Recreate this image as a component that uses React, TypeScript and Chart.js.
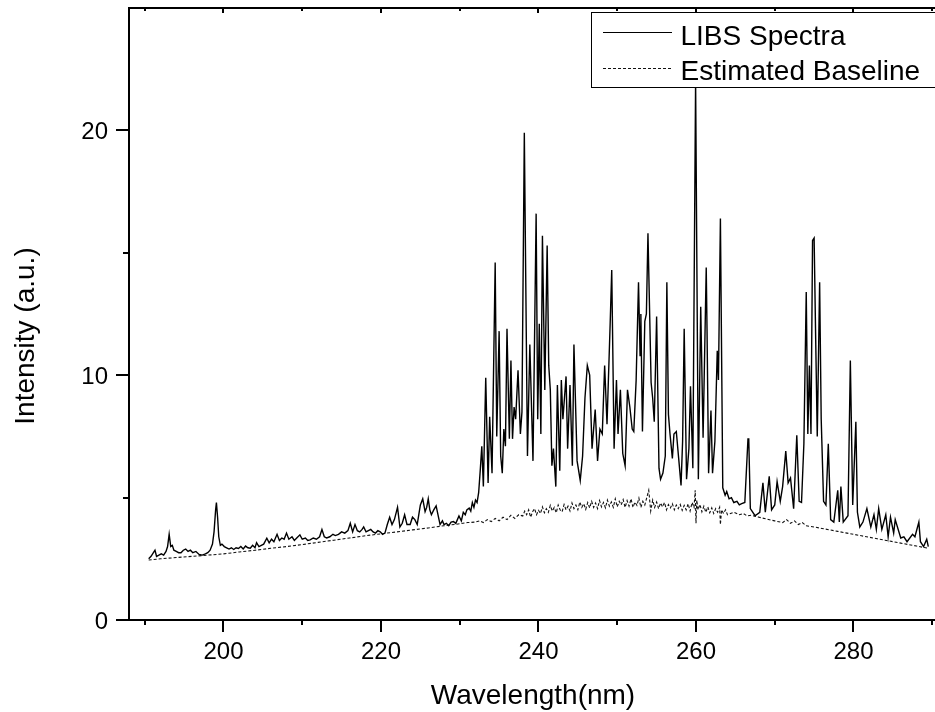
import React, { useEffect, useRef } from 'react';
import { Chart, registerables } from 'chart.js';

Chart.register(...registerables);

// ---- data ----
const spectrumWavelength = [
  190.5, 190.8, 191.1, 191.3, 191.5, 191.8, 192.1, 192.4, 192.7, 192.9, 193.1, 193.3, 193.5, 193.7, 194.0, 194.3,
  194.6, 194.9, 195.2, 195.5, 195.8, 196.1, 196.5, 196.9, 197.3, 197.7, 198.0, 198.3, 198.6, 198.8, 199.0, 199.1,
  199.25, 199.4, 199.6, 199.8, 200.1, 200.4, 200.7, 201.0, 201.3, 201.6, 201.9, 202.2, 202.5, 202.8, 203.1, 203.4,
  203.7, 204.0, 204.2, 204.5, 204.8, 205.1, 205.5, 205.8, 206.1, 206.4, 206.8, 207.1, 207.4, 207.7, 208.0, 208.3,
  208.7, 209.0, 209.3, 209.7, 210.0, 210.4, 210.7, 211.0, 211.4, 211.8, 212.2, 212.5, 212.8, 213.1, 213.5, 213.9,
  214.2, 214.6, 215.0, 215.4, 215.8, 216.1, 216.4, 216.7, 217.0, 217.3, 217.6, 217.8, 218.1, 218.4, 218.7, 219.0,
  219.3, 219.6, 219.9, 220.2, 220.5, 220.8, 221.1, 221.4, 221.7, 222.1, 222.4, 222.7, 223.0, 223.3, 223.7, 224.0,
  224.3, 224.6, 224.8, 225.0, 225.3, 225.6, 225.8, 226.0, 226.2, 226.4, 226.7, 227.0, 227.3, 227.5, 227.8, 228.0,
  228.3, 228.6, 228.9, 229.2, 229.5, 229.9, 230.2, 230.45, 230.7, 230.9, 231.2, 231.4, 231.6, 231.8, 232.0, 232.2,
  232.4, 232.6, 232.8, 233.0, 233.3, 233.6, 233.8, 234.1, 234.5, 234.7, 235.0, 235.2, 235.4, 235.6, 235.8, 236.0,
  236.3, 236.5, 236.7, 236.9, 237.1, 237.4, 237.7, 237.9, 238.2, 238.6, 238.9, 239.3, 239.7, 239.9, 240.1, 240.3,
  240.5, 240.8, 241.1, 241.3, 241.5, 241.7, 241.9, 242.2, 242.4, 242.7, 242.9, 243.1, 243.5, 243.7, 244.0, 244.3,
  244.5, 244.9, 245.3, 245.6, 245.9, 246.2, 246.5, 246.8, 247.2, 247.5, 247.8, 248.1, 248.4, 248.7, 249.1, 249.3,
  249.6, 249.9, 250.1, 250.4, 250.7, 251.0, 251.3, 251.6, 251.9, 252.1, 252.4, 252.7, 252.9, 253.0, 253.2, 253.5,
  253.7, 253.9, 254.3, 254.5, 254.7, 255.0, 255.3, 255.5, 255.8, 256.1, 256.3, 256.5, 256.7, 257.0, 257.2, 257.5,
  257.8, 258.1, 258.3, 258.5, 258.8, 259.1, 259.3, 259.6, 259.95, 260.3, 260.6, 260.9, 261.3, 261.4, 261.6, 261.9,
  262.1, 262.4, 262.7, 262.85, 263.1, 263.4, 263.7, 263.9, 264.2, 264.5, 264.8, 265.2, 265.5, 265.8, 266.2, 266.6,
  266.7, 266.9, 267.5, 268.1, 268.5, 268.8, 269.3, 269.6, 270.0, 270.3, 270.7, 271.0, 271.4, 271.7, 272.0, 272.4,
  272.8, 273.1, 273.4, 273.7, 274.0, 274.2, 274.4, 274.6, 274.8, 275.0, 275.2, 275.4, 275.7, 275.9, 276.2, 276.5,
  276.8, 277.1, 277.5, 278.0, 278.2, 278.4, 278.7, 279.3, 279.6, 279.9, 280.3, 280.5, 280.8, 281.2, 281.7, 282.2,
  282.6, 282.9, 283.2, 283.6, 284.1, 284.4, 284.7, 285.1, 285.3, 286.0, 286.4, 286.8, 287.5, 287.8, 288.3, 288.5,
  288.9, 289.3, 289.5,
];

const spectrumIntensity = [
  2.5, 2.6, 2.75, 2.85, 2.6, 2.65, 2.7, 2.65, 2.8, 3.0, 3.5, 3.0, 3.05, 2.85, 2.8, 2.75,
  2.75, 2.85, 2.9, 2.8, 2.85, 2.75, 2.8, 2.68, 2.65, 2.7, 2.75, 2.85, 3.1, 3.6, 4.5, 4.8,
  4.2, 3.4, 3.05, 3.1, 3.0, 2.95, 2.9, 2.95, 2.88, 2.95, 2.92, 3.0, 2.9, 3.02, 2.95, 2.93,
  3.05, 2.95, 3.16, 3.0, 3.05, 3.1, 3.34, 3.15, 3.3, 3.2, 3.5, 3.25, 3.35, 3.3, 3.55, 3.3,
  3.4, 3.25, 3.35, 3.48, 3.3, 3.35, 3.25, 3.27, 3.35, 3.3, 3.4, 3.7, 3.4, 3.35, 3.4, 3.5,
  3.45, 3.5, 3.6, 3.55, 3.65, 3.95, 3.6, 3.9, 3.65, 3.6, 3.7, 3.8, 3.6, 3.65, 3.7, 3.6,
  3.55, 3.65, 3.6, 3.5, 3.55, 3.9, 4.2, 3.9, 4.1, 4.6, 3.8, 3.95, 4.3, 3.9, 3.9, 4.2,
  4.1, 3.9, 4.3, 4.7, 4.95, 4.43, 4.6, 4.95, 4.5, 4.3, 4.5, 4.66, 4.2, 3.9, 4.05, 3.9,
  3.95, 3.85, 4.0, 4.02, 3.95, 4.25, 4.05, 4.4, 4.3, 4.5, 4.57, 4.45, 4.8, 4.6, 4.9, 4.8,
  5.2, 6.1, 7.1, 5.45, 9.9, 5.6, 8.3, 6.0, 14.6, 7.5, 11.8, 6.7, 6.0, 7.8, 7.1, 11.9,
  7.4, 10.6, 7.4, 8.7, 8.2, 10.2, 7.6, 8.5, 19.9, 6.7, 11.25, 6.5, 16.6, 8.2, 12.1, 7.6,
  15.7, 9.4, 15.3, 10.4, 9.4, 6.3, 7.0, 5.45, 9.6, 6.1, 9.8, 8.2, 9.95, 7.0, 9.6, 6.3,
  11.25, 6.5, 5.7, 6.7, 9.07, 10.4, 10.0, 7.0, 8.6, 6.5, 7.8, 7.6, 10.4, 8.0, 12.1, 14.3,
  7.0, 9.8, 7.6, 9.4, 6.8, 6.3, 9.4, 8.7, 7.8, 7.7, 9.8, 13.8, 10.8, 12.5, 7.7, 12.2,
  12.5, 15.8, 9.7, 9.06, 8.1, 12.4, 6.2, 5.75, 6.0, 6.7, 13.8, 8.4, 7.6, 6.6, 7.6, 7.7,
  6.6, 5.5, 7.3, 11.9, 5.75, 7.0, 9.55, 6.2, 22.0, 5.75, 12.8, 7.45, 14.4, 11.9, 6.0, 8.56,
  6.0, 7.3, 11.0, 9.8, 16.4, 5.4, 5.1, 5.25, 4.95, 5.0, 4.8, 4.85, 4.7, 4.75, 4.8, 7.4,
  7.4, 4.55, 4.26, 4.4, 5.6, 4.4, 5.87, 4.5, 4.7, 5.65, 4.85, 5.45, 6.9, 5.6, 5.8, 4.55,
  7.55, 4.85, 4.8, 7.2, 13.4, 7.6, 10.4, 7.6, 15.5, 15.6, 11.45, 7.5, 13.8, 8.2, 4.85, 4.7,
  7.2, 4.1, 4.0, 5.3, 4.0, 5.45, 4.0, 4.26, 10.6, 4.7, 8.1, 4.4, 3.8, 4.0, 4.55, 3.8,
  4.3, 3.7, 4.55, 3.7, 4.3, 3.4, 4.2, 3.55, 4.1, 3.35, 3.4, 3.2, 3.5, 3.4, 4.0, 3.2,
  3.0, 3.3, 3.0,
];

const baselineWavelength = [
  190.5, 192, 194, 196, 198, 200, 202, 204, 206, 208, 210, 212, 214, 216, 218, 220,
  222, 224, 226, 228, 230, 231, 232, 232.5, 233, 233.5, 234, 234.5, 235, 235.5, 236, 236.5,
  237, 237.5, 238.0, 238.25, 238.5, 238.75, 239.0, 239.25, 239.5, 239.75, 240.0, 240.25, 240.5, 240.75,
  241.0, 241.25, 241.5, 241.75, 242.0, 242.25, 242.5, 242.75, 243.0, 243.25, 243.5, 243.75, 244.0, 244.25,
  244.5, 244.75, 245.0, 245.25, 245.5, 245.75, 246.0, 246.25, 246.5, 246.75, 247.0, 247.25, 247.5, 247.75,
  248.0, 248.25, 248.5, 248.75, 249.0, 249.25, 249.5, 249.75, 250.0, 250.25, 250.5, 250.75, 251.0, 251.25,
  251.5, 251.75, 252.0, 252.25, 252.5, 252.75, 253.0, 253.25, 253.5, 253.75, 254.0, 254.25, 254.5, 254.75,
  255.0, 255.25, 255.5, 255.75, 256.0, 256.25, 256.5, 256.75, 257.0, 257.25, 257.5, 257.75, 258.0, 258.25,
  258.5, 258.75, 259.0, 259.25, 259.5, 259.75, 259.9, 260.0, 260.1, 260.25, 260.5, 260.75, 261.0, 261.25,
  261.5, 261.75, 262.0, 262.25, 262.5, 262.75, 263.0, 263.1, 263.25, 263.5, 263.75, 264.0, 264.8, 265.5,
  266, 266.5, 267, 268, 269, 270, 271, 271.5, 272, 272.5, 273, 273.5, 274, 275, 276, 277,
  278, 279, 280, 281, 282, 283, 284, 285, 286, 287, 288, 289, 289.5,
];

const baselineIntensity = [
  2.45, 2.5, 2.55, 2.6, 2.65, 2.7, 2.78, 2.85, 2.93, 3.0, 3.08, 3.17, 3.26, 3.35, 3.44, 3.52,
  3.6, 3.68, 3.76, 3.85, 3.93, 3.98, 4.0, 4.05, 3.98, 4.1, 4.02, 4.15, 4.05, 4.2, 4.1, 4.28,
  4.15, 4.3, 4.25, 4.45, 4.3, 4.5, 4.2, 4.42, 4.55, 4.3, 4.48, 4.35, 4.62, 4.38,
  4.55, 4.4, 4.68, 4.45, 4.6, 4.38, 4.7, 4.5, 4.42, 4.72, 4.5, 4.65, 4.45, 4.78,
  4.55, 4.7, 4.5, 4.82, 4.6, 4.75, 4.52, 4.8, 4.58, 4.85, 4.6, 4.78, 4.55, 4.88,
  4.62, 4.8, 4.58, 4.9, 4.65, 4.82, 4.6, 4.95, 4.62, 4.85, 4.7, 4.92, 4.6, 4.88,
  4.65, 4.95, 4.6, 4.82, 4.68, 4.98, 4.6, 4.85, 4.7, 5.0, 5.3, 4.45, 4.9, 4.6,
  4.82, 4.55, 4.78, 4.62, 4.8, 4.5, 4.72, 4.58, 4.75, 4.5, 4.7, 4.55, 4.72, 4.48,
  4.68, 4.5, 4.75, 4.45, 4.8, 4.6, 5.3, 3.95, 4.9, 4.5, 4.72, 4.42, 4.65, 4.4,
  4.62, 4.38, 4.58, 4.35, 4.55, 4.4, 4.6, 3.9, 4.5, 4.35, 4.5, 4.3, 4.4, 4.3,
  4.35, 4.25, 4.28, 4.2, 4.12, 4.05, 3.98, 4.1, 3.95, 4.05, 3.9, 3.98, 3.85, 3.8, 3.74, 3.68,
  3.62, 3.56, 3.5, 3.44, 3.38, 3.32, 3.26, 3.2, 3.14, 3.08, 3.02, 2.96, 2.93,
];

const seriesLabels = ['LIBS Spectra', 'Estimated Baseline'];
const xMajorTicks = [200, 220, 240, 260, 280];
const xMinorTicks = [190, 210, 230, 250, 270, 290];
const yMajorTicks = [0, 10, 20];
const yMinorTicks = [5, 15];
const xAxisTitle = 'Wavelength(nm)';
const yAxisTitle = 'Intensity (a.u.)';

const FONT_FAMILY = '"Liberation Sans", Arial, Helvetica, sans-serif';

const originStylePlugin = {
  id: 'originStyle',
  beforeDraw(chart: any) {
    const { ctx, width, height } = chart;
    ctx.save();
    ctx.fillStyle = '#ffffff';
    ctx.fillRect(0, 0, width, height);
    ctx.restore();
  },
  afterDraw(chart: any) {
    const { ctx, chartArea: a, scales } = chart;
    const xs = scales.x;
    const ys = scales.y;
    ctx.save();
    ctx.strokeStyle = '#000';
    ctx.fillStyle = '#000';

    // frame: left, bottom, top
    ctx.lineWidth = 2;
    ctx.beginPath();
    ctx.moveTo(a.left, a.top);
    ctx.lineTo(a.left, a.bottom);
    ctx.lineTo(a.right + 2, a.bottom);
    ctx.moveTo(a.left - 1, a.top);
    ctx.lineTo(a.right + 2, a.top);
    ctx.stroke();

    // x ticks (bottom, outward) and top (inward)
    ctx.lineWidth = 2;
    ctx.beginPath();
    xMajorTicks.forEach((v) => {
      const px = Math.round(xs.getPixelForValue(v));
      ctx.moveTo(px, a.bottom);
      ctx.lineTo(px, a.bottom + 12);
      ctx.moveTo(px, a.top);
      ctx.lineTo(px, a.top + 5);
    });
    xMinorTicks.forEach((v) => {
      const px = Math.round(xs.getPixelForValue(v));
      ctx.moveTo(px, a.bottom);
      ctx.lineTo(px, a.bottom + 5);
      ctx.moveTo(px, a.top);
      ctx.lineTo(px, a.top + 3);
    });
    // y ticks (left, outward)
    yMajorTicks.forEach((v) => {
      const py = Math.round(ys.getPixelForValue(v));
      ctx.moveTo(a.left, py);
      ctx.lineTo(a.left - 13, py);
    });
    yMinorTicks.forEach((v) => {
      const py = Math.round(ys.getPixelForValue(v));
      ctx.moveTo(a.left, py);
      ctx.lineTo(a.left - 6, py);
    });
    ctx.stroke();

    // tick labels
    ctx.font = `24px ${FONT_FAMILY}`;
    ctx.textBaseline = 'alphabetic';
    ctx.textAlign = 'center';
    xMajorTicks.forEach((v) => {
      ctx.fillText(String(v), xs.getPixelForValue(v), a.bottom + 38.5);
    });
    ctx.textAlign = 'right';
    yMajorTicks.forEach((v) => {
      ctx.fillText(String(v), a.left - 21, ys.getPixelForValue(v) + 9);
    });

    // axis titles
    ctx.font = `28px ${FONT_FAMILY}`;
    ctx.textAlign = 'center';
    ctx.fillText(xAxisTitle, (a.left + a.right) / 2 + 1, a.bottom + 84);
    ctx.save();
    ctx.translate(33.5, (a.top + a.bottom) / 2 + 22);
    ctx.rotate(-Math.PI / 2);
    ctx.fillText(yAxisTitle, 0, 0);
    ctx.restore();

    // legend box
    const lx = 591.5;
    const ly = 12.5;
    ctx.fillStyle = '#fff';
    ctx.fillRect(lx, ly, 360, 75);
    ctx.lineWidth = 1;
    ctx.strokeStyle = '#000';
    ctx.strokeRect(lx, ly, 360, 75);
    const ds = chart.data.datasets;
    const rows = [
      { lineY: 32.5, textY: 45 },
      { lineY: 68.5, textY: 80 },
    ];
    rows.forEach((r, i) => {
      const d = ds[i];
      ctx.save();
      ctx.strokeStyle = d.borderColor;
      ctx.lineWidth = 1;
      ctx.setLineDash(d.borderDash || []);
      ctx.beginPath();
      ctx.moveTo(lx + 11.5, r.lineY);
      ctx.lineTo(lx + 80.5, r.lineY);
      ctx.stroke();
      ctx.restore();
      ctx.fillStyle = '#000';
      ctx.textAlign = 'left';
      ctx.font = `28px ${FONT_FAMILY}`;
      ctx.fillText(d.label, lx + 89, r.textY);
    });
    ctx.restore();
  },
};

export default function App() {
  const canvasRef = useRef<HTMLCanvasElement | null>(null);

  useEffect(() => {
    const canvas = canvasRef.current;
    if (!canvas) return;
    const spectrum = spectrumWavelength.map((w, i) => ({ x: w, y: spectrumIntensity[i] }));
    const baseline = baselineWavelength.map((w, i) => ({ x: w, y: baselineIntensity[i] }));
    const chart = new Chart(canvas, {
      type: 'line',
      data: {
        datasets: [
          {
            label: seriesLabels[0],
            data: spectrum,
            borderColor: '#000000',
            borderWidth: 1.4,
            pointRadius: 0,
            tension: 0,
            fill: false,
            order: 1,
          },
          {
            label: seriesLabels[1],
            data: baseline,
            borderColor: '#111111',
            borderWidth: 1.1,
            borderDash: [3, 2],
            pointRadius: 0,
            tension: 0,
            fill: false,
            order: 2,
          },
        ],
      },
      options: {
        animation: false,
        responsive: false,
        devicePixelRatio: 1,
        events: [],
        layout: { padding: { left: 129, top: 8, right: 0, bottom: 92 } },
        plugins: { legend: { display: false }, tooltip: { enabled: false } },
        scales: {
          x: { type: 'linear', display: false, min: 188, max: 290.35 },
          y: { type: 'linear', display: false, min: 0, max: 25 },
        },
      },
      plugins: [originStylePlugin],
    } as any);
    return () => chart.destroy();
  }, []);

  return (
    <div style={{ position: 'absolute', left: 0, top: 0, width: 935, height: 712, overflow: 'hidden', background: '#fff' }}>
      <canvas ref={canvasRef} width={935} height={712} style={{ display: 'block', width: 935, height: 712 }} />
    </div>
  );
}
